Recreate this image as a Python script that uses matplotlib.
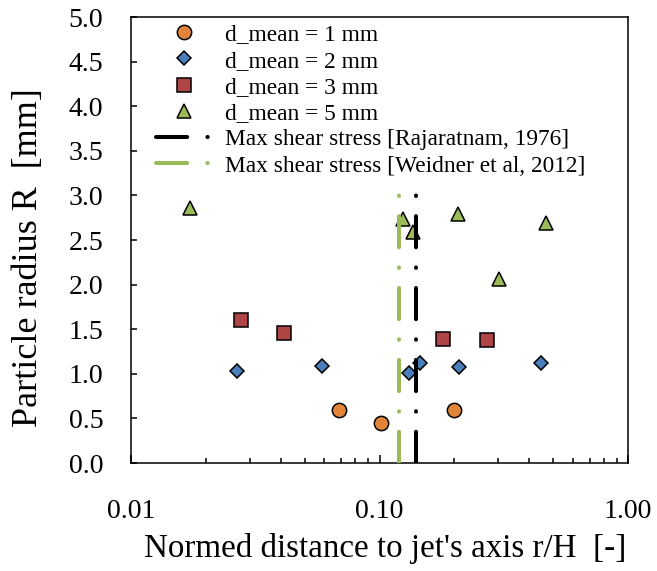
import matplotlib
matplotlib.use("Agg")
import matplotlib.pyplot as plt

# Дані
r_d1 = [0.0687, 0.101, 0.1995]
R_d1 = [0.594, 0.452, 0.594]

r_d2 = [0.0267, 0.0587, 0.1318, 0.1456, 0.2095, 0.4454]
R_d2 = [1.028, 1.087, 1.012, 1.118, 1.080, 1.118]

r_d3 = [0.0277, 0.0414, 0.1808, 0.2716]
R_d3 = [1.603, 1.454, 1.387, 1.379]

r_d5 = [0.01733, 0.1247, 0.136, 0.2075, 0.3035, 0.4677]
R_d5 = [2.864, 2.735, 2.594, 2.795, 2.059, 2.687]

r_rajaratnam = [0.14, 0.14]
r_weidner = [0.12, 0.12]
R_lines = [0.0, 3.0]

labels = ["d_mean = 1 mm", "d_mean = 2 mm", "d_mean = 3 mm", "d_mean = 5 mm",
          "Max shear stress [Rajaratnam, 1976]",
          "Max shear stress [Weidner et al, 2012]"]

plt.rcParams['font.family'] = ['Liberation Serif', 'DejaVu Serif']

fig = plt.figure(figsize=(6.57, 5.71), dpi=100)
ax = fig.add_axes([0.1994, 0.1891, 0.7565, 0.7811])

ax.plot(r_d1, R_d1, 'o', ms=10.3, mfc='#E2853A', mec='black', mew=1.1, label=labels[0], zorder=3)
ax.plot(r_d2, R_d2, 'D', ms=7.3, mfc='#4A7EBB', mec='black', mew=1.1, label=labels[1], zorder=3)
ax.plot(r_d3, R_d3, 's', ms=10.7, mfc='#B04545', mec='black', mew=1.1, label=labels[2], zorder=3)
ax.plot(r_d5, R_d5, '^', ms=10.3, mfc='#9BBB59', mec='black', mew=1.1, label=labels[3], zorder=3)

dash = (0, (7.75, 5, 0.1, 5))
ax.plot(r_rajaratnam, R_lines, color='black', lw=2.9, ls=dash,
        dash_capstyle='round', label=labels[4], zorder=4)
ax.plot(r_weidner, R_lines, color='#9BBB59', lw=2.9, ls=dash,
        dash_capstyle='round', label=labels[5], zorder=4)

ax.set_xscale('log')
ax.set_xlim(0.01, 1.0)
ax.set_ylim(0, 5)
ax.set_xticks([0.01, 0.1, 1.0])
ax.set_xticklabels(["0.01", "0.10", "1.00"])
ax.set_yticks([i * 0.5 for i in range(11)])
ax.set_yticklabels([f"{i * 0.5:.1f}" for i in range(11)])

ax.tick_params(axis='both', which='major', direction='in', labelsize=20, width=1.1)
ax.tick_params(axis='y', length=4.3, pad=20)
ax.tick_params(axis='x', which='major', length=5.8, pad=26)
ax.tick_params(axis='x', which='minor', direction='in', length=3.6, width=1.1)
ax.xaxis.set_minor_formatter(matplotlib.ticker.NullFormatter())
for sp in ax.spines.values():
    sp.set_linewidth(1.1)

ax.set_xlabel("Normed distance to jet's axis r/H  [-]", fontsize=23.8)
ax.xaxis.set_label_coords(0.511, -0.158)
ax.set_ylabel("Particle radius R  [mm]", fontsize=26)
ax.yaxis.set_label_coords(-0.173, 0.461)

ax.legend(loc='upper left', bbox_to_anchor=(0.037, 1.0), frameon=False,
          fontsize=16.8, handlelength=2.36, handletextpad=0.56,
          labelspacing=0.21, borderaxespad=0.1, borderpad=0.2)

plt.savefig("out.png", dpi=100)
